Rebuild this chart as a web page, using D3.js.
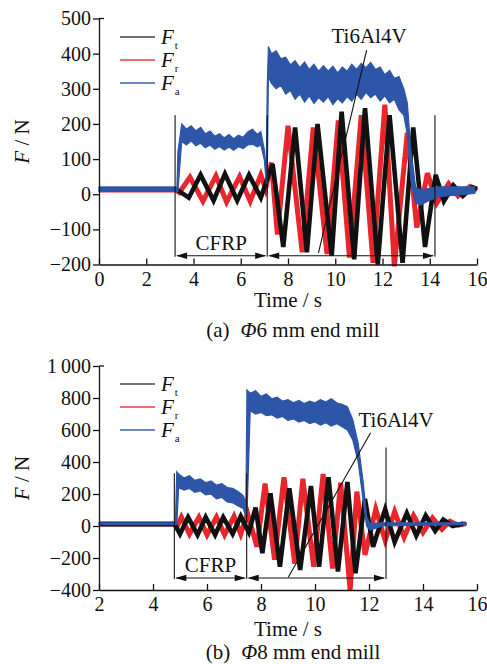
<!DOCTYPE html>
<html><head><meta charset="utf-8">
<script src="https://cdn.jsdelivr.net/npm/d3@7"></script>
<style>
body{margin:0;background:#fff}
svg{display:block}
text{font-family:"Liberation Serif","Times New Roman",serif;fill:#111}
</style>
</head><body>
<svg id="c" width="487" height="664"></svg>
<script>
// ---------- data ----------
const seriesNames = ["t", "r", "a"]; // F_t, F_r, F_a
const xTicksA = [0, 2, 4, 6, 8, 10, 12, 14, 16];
const yTicksA = [-200, -100, 0, 100, 200, 300, 400, 500];
const xTicksB = [2, 4, 6, 8, 10, 12, 14, 16];
const yTicksB = [-400, -200, 0, 200, 400, 600, 800, 1000];

// panel (a): Φ6 mm end mill
const ftA_t = [0, 3.25, 3.8, 4.3, 4.85, 5.33, 5.85, 6.35, 6.85, 7.1, 7.35, 7.8, 8.3, 8.8, 9.25, 9.85, 10.27, 10.8, 11.26, 11.8, 12.3, 12.85, 13.3, 13.8, 14.25, 14.6, 15.0, 15.4, 15.8, 16.0];
const ftA_v = [15, 15, -10, 55, -18, 58, -18, 55, -10, 40, 85, -150, 190, -165, 200, -175, 235, -185, 245, -200, 225, -195, 190, -150, 55, -20, 25, -5, 20, 15];
const frA_t = [0, 3.25, 3.4, 3.85, 4.4, 4.95, 5.4, 5.95, 6.4, 6.85, 7.05, 7.3, 7.55, 8.0, 8.6, 9.07, 9.65, 10.13, 10.6, 11.1, 11.6, 12.1, 12.5, 13.05, 13.45, 13.9, 14.3, 14.8, 15.2, 15.7, 16.0];
const frA_v = [12, 12, 5, 48, -20, 52, -22, 50, -20, 55, 15, 90, -115, 195, -165, 190, -170, 210, -180, 225, -195, 255, -205, 175, -95, 60, -25, 30, -5, 22, 10];
const faA_t = [0, 3.3, 3.34, 3.5, 3.7, 3.9, 4.1, 4.3, 4.5, 4.7, 4.9, 5.1, 5.3, 5.5, 5.7, 5.9, 6.1, 6.3, 6.5, 6.7, 6.85, 7.0, 7.08, 7.12, 7.17, 7.3, 7.5, 7.7, 7.9, 8.1, 8.3, 8.5, 8.7, 8.9, 9.1, 9.3, 9.5, 9.7, 9.9, 10.1, 10.3, 10.5, 10.7, 10.9, 11.1, 11.3, 11.5, 11.7, 11.9, 12.1, 12.3, 12.5, 12.7, 12.9, 13.05, 13.2, 13.4, 13.6, 14.0, 14.4, 15.1, 15.9];
const faA_hi = [20, 20, 120, 200, 185, 195, 180, 190, 172, 180, 165, 172, 160, 170, 158, 168, 162, 178, 185, 170, 178, 126, 60, 300, 420, 400, 408, 385, 390, 368, 380, 360, 376, 355, 370, 350, 366, 350, 364, 345, 362, 350, 370, 355, 372, 360, 375, 355, 362, 340, 352, 330, 335, 300, 260, 126, 21, 12, 17, 21, 21, 21];
const faA_lo = [8, 8, 8, 150, 140, 152, 138, 145, 132, 140, 128, 136, 126, 134, 125, 135, 130, 140, 142, 135, 140, 97, 30, 30, 334, 315, 300, 310, 285, 295, 270, 285, 262, 280, 258, 275, 262, 278, 255, 272, 260, 278, 265, 285, 270, 290, 275, 285, 265, 280, 260, 270, 240, 225, 170, 40, -25, -31, -17, -7, -3, 2];
const markA_t = [3.22, 7.12, 14.22];
const markA_top = [225, 225, 225];
const markA_base = -175;
const leaderA = [[11.33, 410], [9.29, -167]];

// panel (b): Φ8 mm end mill
const ftB_t = [2, 4.8, 5.0, 5.3, 5.65, 5.95, 6.3, 6.6, 6.95, 7.25, 7.55, 7.8, 8.05, 8.35, 8.7, 9.05, 9.45, 9.85, 10.15, 10.5, 10.85, 11.2, 11.5, 11.85, 12.15, 12.6, 12.95, 13.4, 13.75, 14.1, 14.45, 14.75, 15.1, 15.5];
const ftB_v = [12, 12, -50, 55, -55, 55, -55, 55, -50, 60, -40, 115, -170, 205, -255, 235, -275, 250, -255, 305, -285, 275, -295, 170, -130, 105, -100, 80, -60, 65, -30, 40, 0, 15];
const frB_t = [2, 4.8, 4.9, 5.05, 5.35, 5.7, 6.0, 6.35, 6.65, 7.0, 7.25, 7.5, 7.85, 8.15, 8.5, 8.85, 9.25, 9.55, 9.95, 10.3, 10.65, 10.95, 11.3, 11.55, 11.85, 12.25, 12.6, 12.95, 13.3, 13.65, 14.0, 14.35, 14.7, 15.0, 15.3, 15.6];
const frB_v = [12, 12, 0, 55, -50, 55, -55, 55, -55, 60, -50, 80, -130, 265, -210, 305, -235, 295, -255, 325, -265, 270, -400, 215, -180, 105, -90, 90, -70, 65, -40, 50, -20, 30, 5, 15];
const faB_t = [2, 4.83, 4.88, 4.95, 5.15, 5.35, 5.55, 5.75, 5.95, 6.15, 6.35, 6.55, 6.75, 6.95, 7.15, 7.34, 7.44, 7.48, 7.6, 7.8, 8.0, 8.2, 8.4, 8.6, 8.8, 9.0, 9.2, 9.4, 9.6, 9.8, 10.0, 10.2, 10.4, 10.6, 10.8, 11.0, 11.2, 11.4, 11.6, 11.79, 11.91, 12.04, 12.5, 14.0, 15.6];
const faB_hi = [20, 20, 340, 325, 300, 315, 285, 295, 270, 282, 255, 265, 240, 235, 215, 190, 150, 850, 830, 845, 810, 825, 795, 805, 780, 790, 770, 785, 765, 780, 770, 790, 775, 795, 770, 760, 746, 665, 516, 267, 58, 17, 20, 20, 20];
const faB_lo = [8, 8, 8, 240, 225, 235, 210, 220, 195, 200, 170, 178, 150, 145, 125, 110, 60, 60, 720, 700, 710, 690, 695, 675, 685, 660, 670, 650, 660, 640, 650, 630, 645, 625, 640, 620, 600, 537, 400, 150, 0, -25, 0, 5, 8];
const markB_t = [4.79, 7.47, 12.63];
const markB_top = [330, 330, 490];
const markB_base = -325;
const leaderB = [[12.06, 583], [9.01, -320]];

const regionLabels = ["CFRP", "Ti6Al4V"];
const titles = [["(a)", "Φ", "6 mm end mill"], ["(b)", "Φ", "8 mm end mill"]];

// ---------- drawing ----------
const svg = d3.select("#c");
const C_T = "#111111", C_R = "#e8262b", C_A = "#2d56a8";
const zip = (t, v) => t.map((d, i) => [d, v[i]]);
const fmt = d => {
  const s = Math.abs(d) >= 1000 ? d3.format(",")(Math.abs(d)).replace(/,/g, "\u2009") : String(Math.abs(d));
  return (d < 0 ? "\u2212" : "") + s;
};

function panel(o) {
  const x = d3.scaleLinear().domain(o.xDom).range([99, 477]);
  const y = d3.scaleLinear().domain(o.yDom).range(o.yRange);
  const g = svg.append("g");

  // traces
  const line = d3.line().x(d => x(d[0])).y(d => y(d[1]));
  g.append("path").datum(zip(o.fr_t, o.fr_v)).attr("d", line)
    .attr("fill", "none").attr("stroke", C_R).attr("stroke-width", 5).attr("stroke-linejoin", "miter");
  g.append("path").datum(zip(o.ft_t, o.ft_v)).attr("d", line)
    .attr("fill", "none").attr("stroke", C_T).attr("stroke-width", 4.6).attr("stroke-linejoin", "miter");
  const area = d3.area().x(d => x(d[0])).y0(d => y(d[2])).y1(d => y(d[1]));
  g.append("path").datum(o.fa_t.map((t, i) => [t, o.fa_hi[i], o.fa_lo[i]])).attr("d", area)
    .attr("fill", C_A).attr("stroke", C_A).attr("stroke-width", 1.2);

  // axes
  const xa = g.append("g").attr("transform", `translate(0,${o.yRange[0]})`)
    .call(d3.axisBottom(x).tickValues(o.xTicks).tickSize(-6).tickSizeOuter(0).tickPadding(7).tickFormat(d => String(d)));
  const ya = g.append("g").attr("transform", "translate(99,0)")
    .call(d3.axisLeft(y).tickValues(o.yTicks).tickSize(6).tickSizeOuter(0).tickPadding(2).tickFormat(fmt));
  [xa, ya].forEach(a => {
    a.selectAll("path,line").attr("stroke", "#111").attr("stroke-width", 1.3);
    a.selectAll("text").attr("font-size", 20).attr("fill", "#111")
      .attr("font-family", '"Liberation Serif","Times New Roman",serif');
  });
  g.append("line").attr("x1", 99).attr("x2", 104).attr("y1", o.yRange[1]).attr("y2", o.yRange[1])
    .attr("stroke", "#111").attr("stroke-width", 1.3);

  // y label
  const yl = g.append("text").attr("transform", `translate(29,${(o.yRange[0] + o.yRange[1]) / 2}) rotate(-90)`)
    .attr("text-anchor", "middle").attr("font-size", 21);
  yl.append("tspan").attr("font-style", "italic").text("F");
  yl.append("tspan").text(" / N");

  // x label
  g.append("text").attr("x", 288).attr("y", o.yRange[0] + o.xlabOff).attr("text-anchor", "middle")
    .attr("font-size", 21).text("Time / s");
  // title
  const tt = g.append("text").attr("x", 293).attr("y", o.titleY).attr("text-anchor", "middle").attr("font-size", 21);
  tt.append("tspan").text(o.title[0]);
  tt.append("tspan").attr("dx", 11).attr("font-style", "italic").text(o.title[1]);
  tt.append("tspan").text(o.title[2]);

  // legend
  const cols = ["#444", "#f03a3a", "#3b60b2"];
  seriesNames.forEach((s, i) => {
    const ly = o.legY + i * 23;
    g.append("line").attr("x1", 120).attr("x2", 155).attr("y1", ly).attr("y2", ly)
      .attr("stroke", cols[i]).attr("stroke-width", 1.6);
    const t = g.append("text").attr("x", 161).attr("y", ly + 7).attr("font-size", 21);
    t.append("tspan").attr("font-style", "italic").text("F");
    t.append("tspan").attr("font-size", 11).attr("dx", 1).attr("dy", 5).text(s);
  });

  // annotation lines
  o.mark_t.forEach((t, i) => {
    g.append("line").attr("x1", x(t)).attr("x2", x(t)).attr("y1", y(o.mark_top[i])).attr("y2", y(o.mark_base) + 1)
      .attr("stroke", "#111").attr("stroke-width", 1.1);
  });
  const ay = y(o.mark_base);
  const arrow = (x1, x2) => {
    g.append("line").attr("x1", x1 + 2).attr("x2", x2 - 2).attr("y1", ay).attr("y2", ay)
      .attr("stroke", "#111").attr("stroke-width", 1.1);
    const L = 11, W = 3.3;
    g.append("path").attr("d", `M${x1 + 1},${ay} L${x1 + 1 + L},${ay - W} L${x1 + 1 + L},${ay + W} Z`).attr("fill", "#111");
    g.append("path").attr("d", `M${x2 - 1},${ay} L${x2 - 1 - L},${ay - W} L${x2 - 1 - L},${ay + W} Z`).attr("fill", "#111");
  };
  arrow(x(o.mark_t[0]), x(o.mark_t[1]));
  arrow(x(o.mark_t[1]), x(o.mark_t[2]));
  g.append("text").attr("x", (x(o.mark_t[0]) + x(o.mark_t[1])) / 2).attr("y", ay - 6)
    .attr("text-anchor", "middle").attr("font-size", 21).text(regionLabels[0]);
  // leader
  g.append("line").attr("x1", x(o.leader[0][0])).attr("y1", y(o.leader[0][1]))
    .attr("x2", x(o.leader[1][0])).attr("y2", y(o.leader[1][1])).attr("stroke", "#111").attr("stroke-width", 1.1);
  g.append("text").attr("x", o.tiX).attr("y", o.tiY).attr("text-anchor", "middle")
    .attr("font-size", 21).text(regionLabels[1]);
}

panel({
  xDom: [0, 16], yDom: [-200, 500], yRange: [264.5, 18.5],
  xTicks: xTicksA, yTicks: yTicksA,
  ft_t: ftA_t, ft_v: ftA_v, fr_t: frA_t, fr_v: frA_v,
  fa_t: faA_t, fa_hi: faA_hi, fa_lo: faA_lo,
  mark_t: markA_t, mark_top: markA_top, mark_base: markA_base, leader: leaderA,
  legY: 37, tiX: 369, tiY: 43, title: titles[0], xlabOff: 42, titleY: 337
});
panel({
  xDom: [2, 16], yDom: [-400, 1000], yRange: [590, 366],
  xTicks: xTicksB, yTicks: yTicksB,
  ft_t: ftB_t, ft_v: ftB_v, fr_t: frB_t, fr_v: frB_v,
  fa_t: faB_t, fa_hi: faB_hi, fa_lo: faB_lo,
  mark_t: markB_t, mark_top: markB_top, mark_base: markB_base, leader: leaderB,
  legY: 384, tiX: 396, tiY: 427, title: titles[1], xlabOff: 46, titleY: 659
});
</script>
</body></html>
